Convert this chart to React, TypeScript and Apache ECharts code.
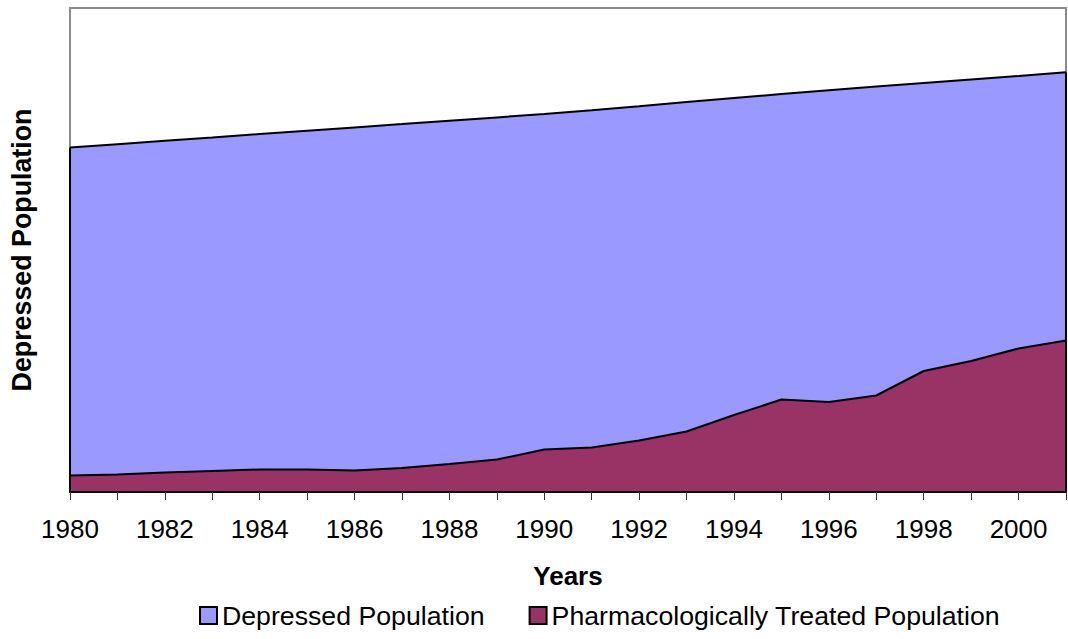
import React, { useEffect, useRef } from "react";
import * as echarts from "echarts";

const years = ["1980","1981","1982","1983","1984","1985","1986","1987","1988","1989","1990","1991","1992","1993","1994","1995","1996","1997","1998","1999","2000","2001"];
const depressed = [344.5, 347.8, 351.2, 354.5, 357.9, 361.2, 364.6, 367.9, 371.3, 374.6, 378, 381.8, 385.8, 390, 394, 398, 401.8, 405.5, 409, 412.5, 416, 419.7];
const treated = [16.5, 17.5, 19.5, 21, 22.5, 22.5, 21.5, 24, 28, 32.5, 42.5, 44.5, 51.5, 60.5, 77, 92.5, 90, 96.5, 121, 131, 143.5, 151.5];
const yMax = 484;

const FONT = "'Liberation Sans', Arial, sans-serif";

export default function App() {
  const ref = useRef<HTMLDivElement>(null);
  useEffect(() => {
    if (!ref.current) return;
    const chart = echarts.init(ref.current, null, { renderer: "svg" });
    const last = years.length - 1;
    chart.setOption({
      animation: false,
      backgroundColor: "#ffffff",
      textStyle: { fontFamily: FONT },
      grid: {
        left: 66, right: 2, top: 8, bottom: 147,
        show: true, borderColor: "#8c8c8c", borderWidth: 2, backgroundColor: "transparent",
      },
      legend: {
        data: ["Depressed Population", "Pharmacologically Treated Population"],
        left: 194, top: 597,
        icon: "rect", itemWidth: 17, itemHeight: 17, itemGap: 44,
        itemStyle: { borderColor: "#000", borderWidth: 2 },
        textStyle: { fontSize: 26.7, color: "#000", fontFamily: FONT },
      },
      xAxis: {
        type: "category", data: years, boundaryGap: false, z: 10,
        axisLine: { show: true, lineStyle: { color: "#000", width: 2 } },
        axisTick: { show: true, interval: 0, length: 8, lineStyle: { color: "#333", width: 1 } },
        axisLabel: { interval: 1, fontSize: 26, color: "#000", margin: 24, fontFamily: FONT },
        name: "Years", nameLocation: "middle", nameGap: 71,
        nameTextStyle: { fontSize: 26, fontWeight: "bold", color: "#000", fontFamily: FONT },
        splitLine: { show: false },
      },
      yAxis: {
        type: "value", min: 0, max: yMax,
        axisLine: { show: false }, axisTick: { show: false }, axisLabel: { show: false }, splitLine: { show: false },
        name: "Depressed Population", nameLocation: "middle", nameGap: 35, nameRotate: 90,
        nameTextStyle: { fontSize: 26.8, fontWeight: "bold", color: "#000", fontFamily: FONT },
      },
      series: [
        {
          name: "Depressed Population", type: "line", data: depressed,
          showSymbol: false, symbol: "none", color: "#9999ff",
          lineStyle: { color: "#000", width: 2 },
          itemStyle: { color: "#9999ff" },
          areaStyle: { color: "#9999ff", opacity: 1, origin: "start" },
          z: 2,
        },
        {
          name: "Pharmacologically Treated Population", type: "line", data: treated,
          showSymbol: false, symbol: "none", color: "#993366",
          lineStyle: { color: "#000", width: 2 },
          itemStyle: { color: "#993366" },
          areaStyle: { color: "#993366", opacity: 1, origin: "start" },
          z: 3,
          markLine: {
            silent: true, symbol: ["none", "none"], label: { show: false },
            lineStyle: { color: "#000", width: 2, type: "solid" },
            data: [
              [{ coord: [years[0], 0] }, { coord: [years[0], depressed[0]] }],
              [{ coord: [years[last], 0] }, { coord: [years[last], depressed[last]] }],
            ],
          },
        },
      ],
    });
    return () => chart.dispose();
  }, []);
  return <div ref={ref} style={{ position: "absolute", left: 0, top: 0, width: 1068, height: 639 }} />;
}
